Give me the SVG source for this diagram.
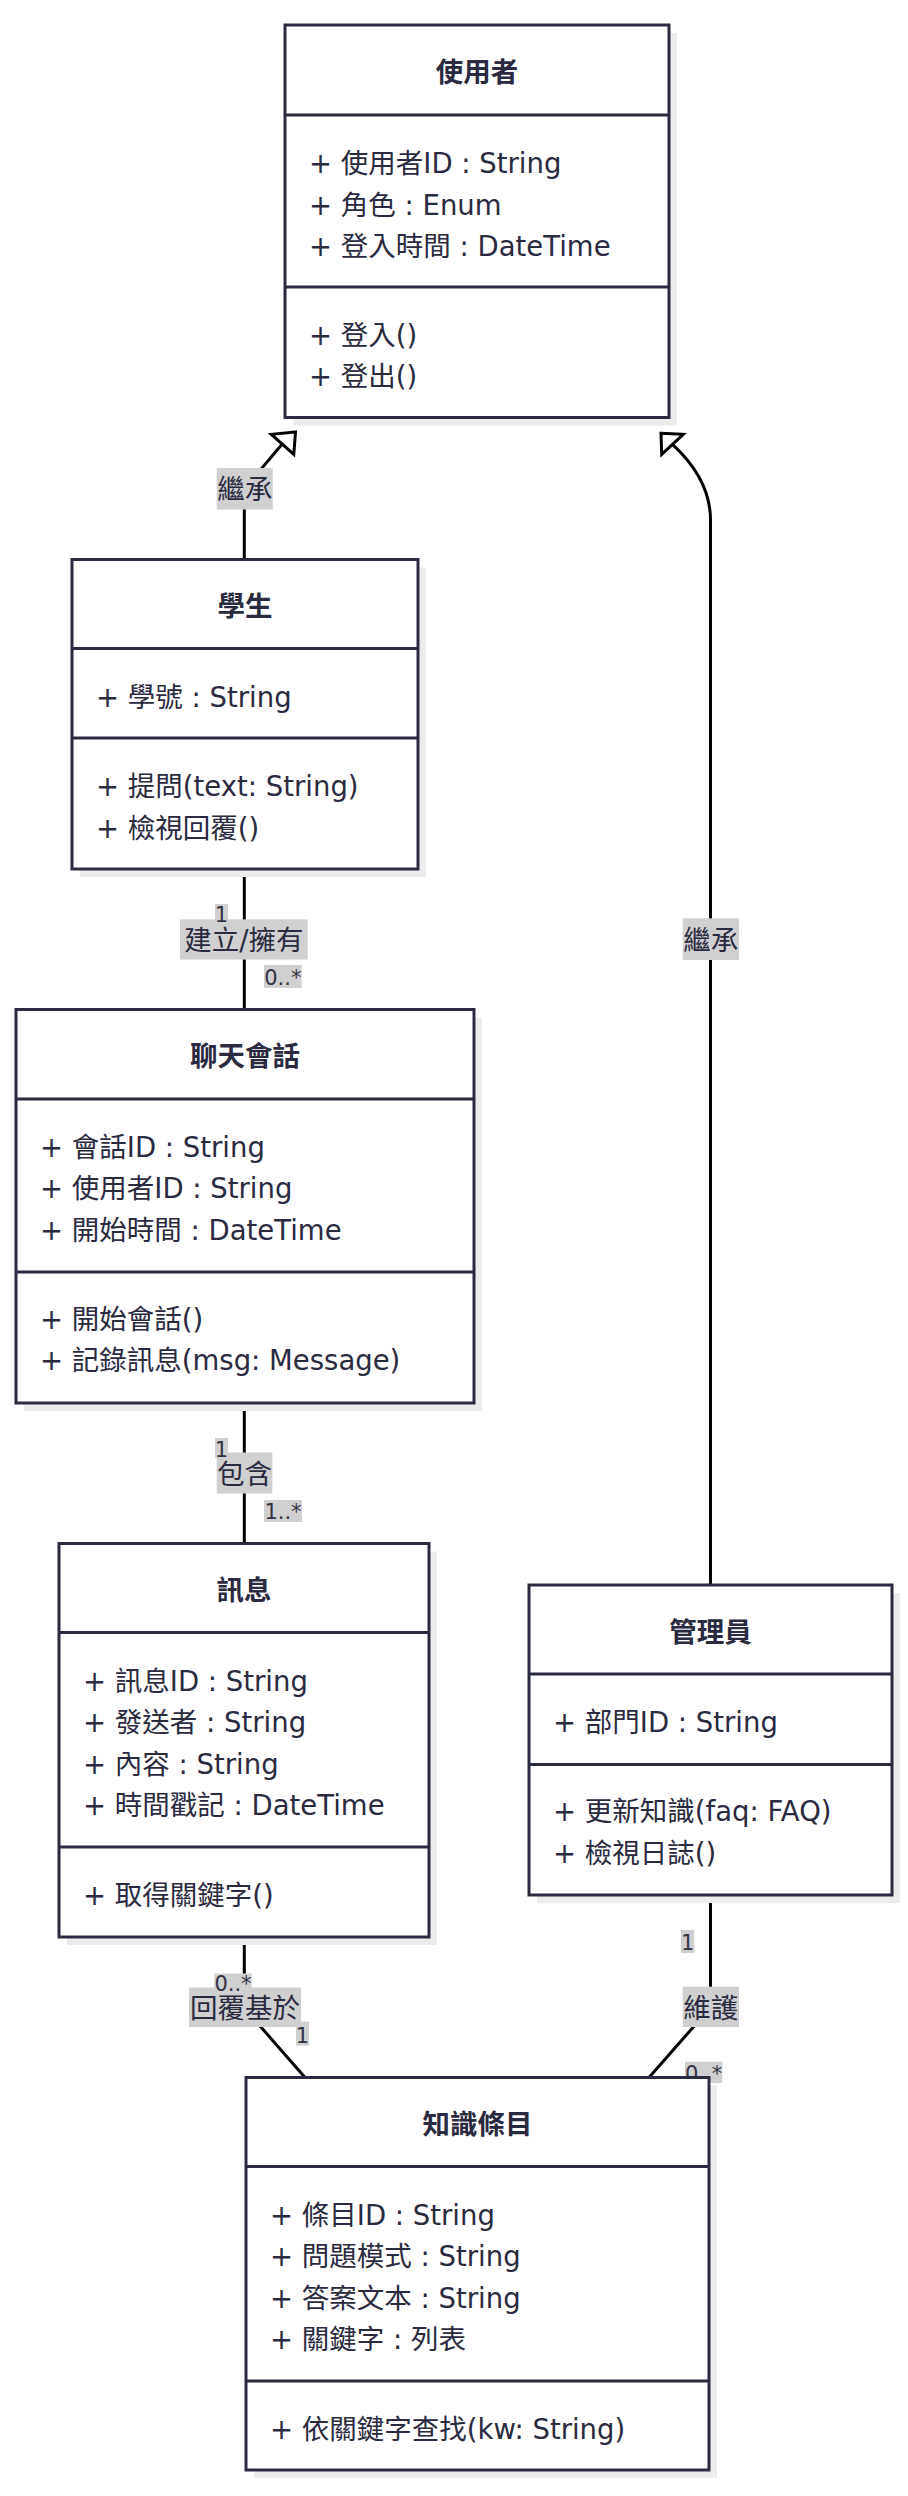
<svg xmlns="http://www.w3.org/2000/svg" width="908" height="2496" viewBox="0 0 908 2496">
<style>
.bg{fill:#ffffff}
.shadow{fill:#ececec}
.box{fill:#ffffff;stroke:#2a2a40;stroke-width:3}
.dv{stroke:#2a2a40;stroke-width:3}
.t{font-family:"DejaVu Sans","Noto Sans CJK TC",sans-serif;font-size:27.5px;fill:#2a2a40}
.title{font-family:"Noto Sans CJK TC",sans-serif;font-weight:bold;font-size:27.5px;fill:#2a2a40;text-anchor:middle}
.edge{fill:none;stroke:#000000;stroke-width:3}
.arrow{fill:#ffffff;stroke:#000000;stroke-width:3;stroke-linejoin:miter}
.lblbg{fill:#d0d0d0}
.lbl{font-family:"DejaVu Sans","Noto Sans CJK TC",sans-serif;font-size:27.5px;fill:#2a2a40;text-anchor:middle}
.card{font-family:"DejaVu Sans","Noto Sans CJK TC",sans-serif;font-size:21px;fill:#333344;text-anchor:middle}
</style>
<rect class="bg" x="0" y="0" width="908" height="2496"/>

<g id="connectors">
  <!-- 學生 -> 使用者 (繼承) -->
  <path class="edge" d="M244.3,559.5 L244.3,489 L282,444.3"/>
  <polygon class="arrow" points="295.5,432 271.3,434.3 293.8,454.3"/>
  <rect class="lblbg" x="216.7" y="468" width="56" height="41.5"/>
  <text class="lbl" x="244.7" y="499">繼承</text>

  <!-- 管理員 -> 使用者 (繼承) -->
  <path class="edge" d="M710.5,1585 L710.5,520 Q710.5,479.4 672.5,444.3"/>
  <polygon class="arrow" points="661,433.3 683.3,434.3 661.7,454.3"/>
  <rect class="lblbg" x="682.7" y="918.3" width="56.3" height="41.7"/>
  <text class="lbl" x="710.8" y="949.5">繼承</text>

  <!-- 學生 -> 聊天會話 -->
  <path class="edge" d="M244.3,869 L244.3,1009.5"/>
  <rect class="lblbg" x="180" y="919.4" width="127.7" height="40.2"/>
  <text class="lbl" x="244" y="949.5">建立/擁有</text>
  <rect class="lblbg" x="215" y="904" width="13" height="19"/>
  <text class="card" x="221.5" y="922">1</text>
  <rect class="lblbg" x="264" y="965" width="37.7" height="23"/>
  <text class="card" x="282.8" y="985">0..*</text>

  <!-- 聊天會話 -> 訊息 -->
  <path class="edge" d="M244.3,1403 L244.3,1543.5"/>
  <rect class="lblbg" x="216.7" y="1452.5" width="55.6" height="41"/>
  <text class="lbl" x="244.5" y="1483.5">包含</text>
  <rect class="lblbg" x="215" y="1438" width="13" height="20"/>
  <text class="card" x="221.5" y="1456.5">1</text>
  <rect class="lblbg" x="264" y="1500" width="38" height="22"/>
  <text class="card" x="283" y="1519">1..*</text>

  <!-- 訊息 -> 知識條目 -->
  <path class="edge" d="M244.3,1937 L244.3,2008 L305,2077.5"/>
  <rect class="lblbg" x="189" y="1987.5" width="112" height="39.5"/>
  <text class="lbl" x="245" y="2017.5">回覆基於</text>
  <rect class="lblbg" x="214.3" y="1973.5" width="37.4" height="18.5"/>
  <text class="card" x="233" y="1991">0..*</text>
  <rect class="lblbg" x="296" y="2021.6" width="13" height="24"/>
  <text class="card" x="302.5" y="2043">1</text>

  <!-- 管理員 -> 知識條目 -->
  <path class="edge" d="M710.5,1895 L710.5,2007.5 L649,2077.5"/>
  <rect class="lblbg" x="682.7" y="1986.7" width="56.3" height="40.3"/>
  <text class="lbl" x="710.8" y="2017.5">維護</text>
  <rect class="lblbg" x="681" y="1930" width="13.3" height="23"/>
  <text class="card" x="687.6" y="1950">1</text>
  <rect class="lblbg" x="685" y="2061.7" width="37.3" height="21.3"/>
  <text class="card" x="703.6" y="2081">0..*</text>
</g>

<g id="n-user">
  <rect class="shadow" x="293" y="33" width="384" height="392.5"/>
  <rect class="box" x="285" y="25" width="384" height="392.5"/>
  <line class="dv" x1="285" y1="115" x2="669" y2="115"/>
  <line class="dv" x1="285" y1="287" x2="669" y2="287"/>
  <text class="title" x="477" y="81.5">使用者</text>
  <text class="t" x="309" y="173">+ 使用者ID : String</text>
  <text class="t" x="309" y="214.5">+ 角色 : Enum</text>
  <text class="t" x="309" y="256">+ 登入時間 : DateTime</text>
  <text class="t" x="309" y="344.5">+ 登入()</text>
  <text class="t" x="309" y="386">+ 登出()</text>
</g>

<g id="n-student">
  <rect class="shadow" x="80" y="567.5" width="346" height="309.5"/>
  <rect class="box" x="72" y="559.5" width="346" height="309.5"/>
  <line class="dv" x1="72" y1="648.5" x2="418" y2="648.5"/>
  <line class="dv" x1="72" y1="738" x2="418" y2="738"/>
  <text class="title" x="245" y="616">學生</text>
  <text class="t" x="96" y="706.5">+ 學號 : String</text>
  <text class="t" x="96" y="796">+ 提問(text: String)</text>
  <text class="t" x="96" y="837.5">+ 檢視回覆()</text>
</g>

<g id="n-chat">
  <rect class="shadow" x="24" y="1017.5" width="458" height="393.5"/>
  <rect class="box" x="16" y="1009.5" width="458" height="393.5"/>
  <line class="dv" x1="16" y1="1099" x2="474" y2="1099"/>
  <line class="dv" x1="16" y1="1272" x2="474" y2="1272"/>
  <text class="title" x="245" y="1066">聊天會話</text>
  <text class="t" x="40" y="1156.5">+ 會話ID : String</text>
  <text class="t" x="40" y="1198">+ 使用者ID : String</text>
  <text class="t" x="40" y="1239.5">+ 開始時間 : DateTime</text>
  <text class="t" x="40" y="1328.5">+ 開始會話()</text>
  <text class="t" x="40" y="1370">+ 記錄訊息(msg: Message)</text>
</g>

<g id="n-message">
  <rect class="shadow" x="67" y="1551.5" width="370" height="393.5"/>
  <rect class="box" x="59" y="1543.5" width="370" height="393.5"/>
  <line class="dv" x1="59" y1="1632.5" x2="429" y2="1632.5"/>
  <line class="dv" x1="59" y1="1847" x2="429" y2="1847"/>
  <text class="title" x="244" y="1600">訊息</text>
  <text class="t" x="83" y="1690.5">+ 訊息ID : String</text>
  <text class="t" x="83" y="1732">+ 發送者 : String</text>
  <text class="t" x="83" y="1773.5">+ 內容 : String</text>
  <text class="t" x="83" y="1815">+ 時間戳記 : DateTime</text>
  <text class="t" x="83" y="1905">+ 取得關鍵字()</text>
</g>

<g id="n-admin">
  <rect class="shadow" x="537" y="1593" width="363" height="310"/>
  <rect class="box" x="529" y="1585" width="363" height="310"/>
  <line class="dv" x1="529" y1="1674" x2="892" y2="1674"/>
  <line class="dv" x1="529" y1="1764.5" x2="892" y2="1764.5"/>
  <text class="title" x="710.5" y="1641.5">管理員</text>
  <text class="t" x="553" y="1732">+ 部門ID : String</text>
  <text class="t" x="553" y="1821">+ 更新知識(faq: FAQ)</text>
  <text class="t" x="553" y="1862.5">+ 檢視日誌()</text>
</g>

<g id="n-knowledge">
  <rect class="shadow" x="254" y="2085.5" width="463" height="392.5"/>
  <rect class="box" x="246" y="2077.5" width="463" height="392.5"/>
  <line class="dv" x1="246" y1="2166.5" x2="709" y2="2166.5"/>
  <line class="dv" x1="246" y1="2381" x2="709" y2="2381"/>
  <text class="title" x="477.5" y="2134">知識條目</text>
  <text class="t" x="270" y="2224.5">+ 條目ID : String</text>
  <text class="t" x="270" y="2266">+ 問題模式 : String</text>
  <text class="t" x="270" y="2307.5">+ 答案文本 : String</text>
  <text class="t" x="270" y="2349">+ 關鍵字 : 列表</text>
  <text class="t" x="270" y="2438.5">+ 依關鍵字查找(kw: String)</text>
</g>
</svg>
